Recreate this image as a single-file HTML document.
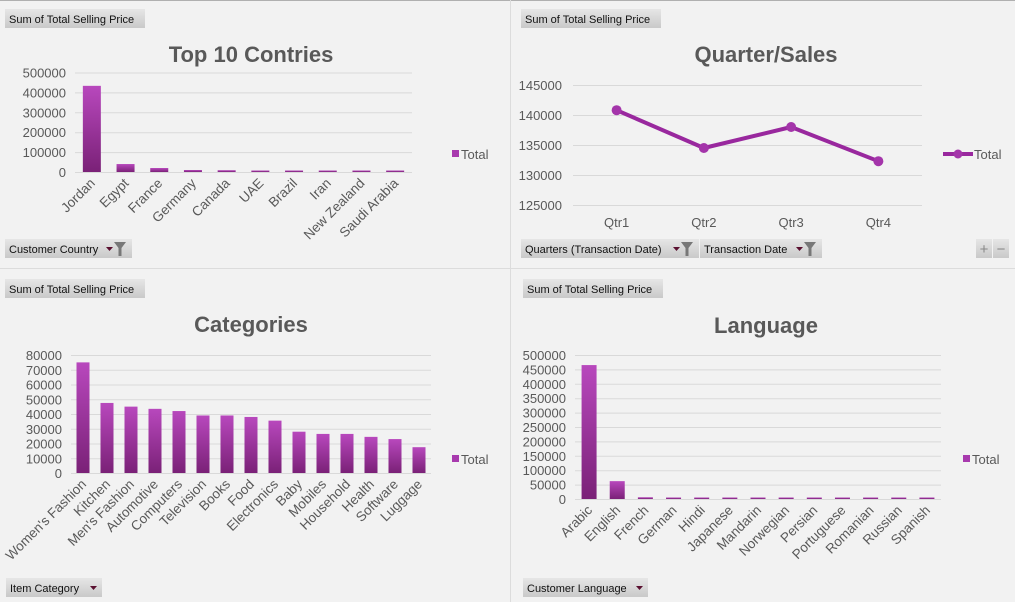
<!DOCTYPE html>
<html><head><meta charset="utf-8"><style>
body{margin:0;background:#f2f2f2;}
svg{display:block;font-family:"Liberation Sans",sans-serif;}
.tk{font-size:13px;fill:#595959;}
.xl{font-size:13.5px;fill:#595959;}
.tt{font-size:22px;font-weight:bold;fill:#595959;}
.bt{font-size:11px;fill:#111;}
</style></head><body>
<svg id="s" width="1015" height="602" viewBox="0 0 1015 602" xmlns="http://www.w3.org/2000/svg">
<defs>
<linearGradient id="bg" x1="0" y1="0" x2="0" y2="1"><stop offset="0" stop-color="#b848bd"/><stop offset="1" stop-color="#7a2177"/></linearGradient>
<linearGradient id="btn" x1="0" y1="0" x2="0" y2="1"><stop offset="0" stop-color="#e6e6e6"/><stop offset="1" stop-color="#c9c9c9"/></linearGradient>
</defs>
<rect width="1015" height="602" fill="#f2f2f2"/>
<line x1="0" y1="0.5" x2="1015" y2="0.5" stroke="#b0b0b0"/>
<line x1="510.5" y1="0" x2="510.5" y2="602" stroke="#dcdcdc"/>
<line x1="0" y1="268.5" x2="1015" y2="268.5" stroke="#dcdcdc"/>
<g id="g"></g>
</svg>
<script>
// Chart 1: Top 10 countries
const countries=["Jordan","Egypt","France","Germany","Canada","UAE","Brazil","Iran","New Zealand","Saudi Arabia"];
const countryVals=[433000,40000,20000,10000,9000,3000,3000,3000,3000,3000];
const countryTicks=[0,100000,200000,300000,400000,500000];
// Chart 2: Quarter sales
const quarters=["Qtr1","Qtr2","Qtr3","Qtr4"];
const quarterVals=[140800,134500,138000,132300];
const quarterTicks=[125000,130000,135000,140000,145000];
// Chart 3: Categories
const categories=["Women's Fashion","Kitchen","Men's Fashion","Automotive","Computers","Television","Books","Food","Electronics","Baby","Mobiles","Household","Health","Software","Luggage"];
const categoryVals=[75000,47500,45000,43500,42000,39000,39000,38000,35500,28000,26500,26500,24500,23000,17500];
const categoryTicks=[0,10000,20000,30000,40000,50000,60000,70000,80000];
// Chart 4: Language
const languages=["Arabic","English","French","German","Hindi","Japanese","Mandarin","Norwegian","Persian","Portuguese","Romanian","Russian","Spanish"];
const languageVals=[465000,62000,6000,2000,2000,2000,2000,2000,2000,2000,2000,2000,2000];
const languageTicks=[0,50000,100000,150000,200000,250000,300000,350000,400000,450000,500000];

const NS="http://www.w3.org/2000/svg";
const G=document.getElementById('g');
function mk(t,a,txt){const e=document.createElementNS(NS,t);for(const k in a)e.setAttribute(k,a[k]);if(txt!==undefined)e.textContent=txt;G.appendChild(e);return e;}

function button(x,y,w,label,name,filter){
  const r=mk('rect',{x:x,y:y,width:w,height:19,fill:'url(#btn)'});
  
  
  const t=mk('text',{x:x+4,y:y+14,class:'bt'},label);
  
  
  if(filter!==undefined){
    const ax=filter?x+w-26:x+w-12;
    const a=mk('path',{d:`M${ax} ${y+8}h7l-3.5 4z`,fill:'#5a1030'});
    
    
    if(filter){const f=mk('path',{d:`M${x+w-18} ${y+3}h12l-4.5 6v8h-3v-8z`,fill:'#777'});
      
      }
  }
}

function barChart(o){
  const {cats,vals,ticks,x0,x1,yTop,yBot,bw,title,tx,ty,lx,ly,key}=o;
  const max=ticks[ticks.length-1];
  const Y=v=>yBot-(v/max)*(yBot-yTop);
  const step=(x1-x0)/cats.length;
  const X=i=>x0+step*(i+0.5);
  const tt=mk('text',{x:tx,y:ty,class:'tt','text-anchor':'middle'},title);
  
  
  ticks.forEach(v=>{
    const l=mk('line',{x1:x0,x2:x1,y1:Y(v)+.5,y2:Y(v)+.5,stroke:'#d9d9d9'});
    
    
    const t=mk('text',{x:x0-9,y:Y(v)+5,class:'tk','text-anchor':'end'},String(v));
    
    
  });
  cats.forEach((c,i)=>{
    const h=Math.max(1.5,yBot-Y(vals[i]));
    const r=mk('rect',{x:X(i)-bw/2,y:yBot-h,width:bw,height:h,fill:'url(#bg)'});
    
    
    const t=mk('text',{x:0,y:0,class:'xl','text-anchor':'end',transform:`translate(${X(i)+4},${yBot+12}) rotate(-45)`},c);
    
    
  });
  const ls=mk('rect',{x:lx,y:ly-4,width:7,height:7,fill:'#a83aae'});
  
  
  const lt=mk('text',{x:lx+9,y:ly+5,class:'tk'},'Total');
  
  
}

barChart({cats:countries,vals:countryVals,ticks:countryTicks,x0:75,x1:412,yTop:72.5,yBot:172,bw:18,title:'Top 10 Contries',tx:251,ty:62,lx:452,ly:154,key:'countries'});
barChart({cats:categories,vals:categoryVals,ticks:categoryTicks,x0:71,x1:431,yTop:355,yBot:473,bw:13,title:'Categories',tx:251,ty:332,lx:452,ly:459,key:'categories'});
barChart({cats:languages,vals:languageVals,ticks:languageTicks,x0:575,x1:941,yTop:355,yBot:499,bw:15,title:'Language',tx:766,ty:333,lx:963,ly:459,key:'language'});

// line chart
(function(){
  const x0=573,x1=922,yTop=85,yBot=205;
  const mn=quarterTicks[0],mx=quarterTicks[quarterTicks.length-1];
  const Y=v=>yBot-(v-mn)/(mx-mn)*(yBot-yTop);
  const step=(x1-x0)/quarters.length;
  const X=i=>x0+step*(i+0.5);
  const tt=mk('text',{x:766,y:62,class:'tt','text-anchor':'middle'},'Quarter/Sales');
  
  
  quarterTicks.forEach(v=>{
    const l=mk('line',{x1:x0,x2:x1,y1:Y(v)+.5,y2:Y(v)+.5,stroke:'#d9d9d9'});
    
    
    const t=mk('text',{x:562,y:Y(v)+5,class:'tk','text-anchor':'end'},String(v));
    
    
  });
  const pts=quarterVals.map((v,i)=>X(i)+','+Y(v)).join(' ');
  const pl=mk('polyline',{points:pts,fill:'none',stroke:'#99289e','stroke-width':4,'stroke-linejoin':'round'});
  
  
  quarters.forEach((q,i)=>{
    const c=mk('circle',{cx:X(i),cy:Y(quarterVals[i]),r:5,fill:'#a435aa'});
    
    
    const t=mk('text',{x:X(i),y:227,class:'tk','text-anchor':'middle'},q);
    
    
  });
  const ll=mk('line',{x1:943,x2:973,y1:154,y2:154,stroke:'#99289e','stroke-width':4});
  
  
  const lc=mk('circle',{cx:958,cy:154,r:4.5,fill:'#a435aa'});
  
  
  const lt=mk('text',{x:974,y:159,class:'tk'},'Total');
  
  
})();

button(5,9,140,'Sum of Total Selling Price','countries-value-button');
button(521,9,140,'Sum of Total Selling Price','quarter-value-button');
button(5,279,140,'Sum of Total Selling Price','categories-value-button');
button(523,279,140,'Sum of Total Selling Price','language-value-button');
button(5,239,127,'Customer Country','customer-country-button',true);
button(521,239,178,'Quarters (Transaction Date)','quarters-button',true);
button(700,239,122,'Transaction Date','transaction-date-button',true);
button(6,578,96,'Item Category','item-category-button',false);
button(523,578,125,'Customer Language','customer-language-button',false);
const pb=mk('rect',{x:976,y:239,width:16,height:19,fill:'url(#btn)'});


mk('text',{x:984,y:254,'text-anchor':'middle','font-size':'15',fill:'#888'},'+');
const mb=mk('rect',{x:993,y:239,width:16,height:19,fill:'url(#btn)'});


mk('text',{x:1001,y:254,'text-anchor':'middle','font-size':'15',fill:'#888'},'−');
</script>
</body></html>
